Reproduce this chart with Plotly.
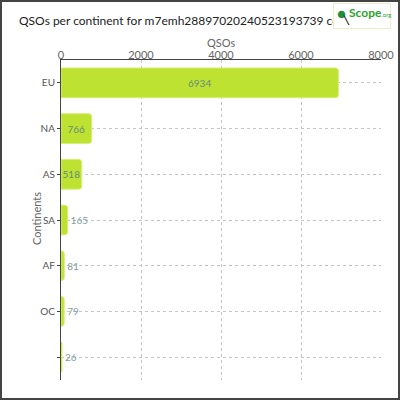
import plotly.graph_objects as go

continents = ["EU", "NA", "AS", "SA", "AF", "OC", " "]
qsos = [6934, 766, 518, 165, 81, 79, 26]
x_ticks = [0, 2000, 4000, 6000, 8000]

title = "QSOs per continent for m7emh28897020240523193739 contacts"

fig = go.Figure()

fig.add_trace(go.Bar(
    x=qsos,
    y=continents,
    orientation="h",
    text=qsos,
    textposition="auto",
    textangle=0,
    constraintext="none",
    insidetextanchor="middle",
    textfont=dict(size=10, color="#6a8a7a"),
    outsidetextfont=dict(size=10, color="#7f9ea0"),
    marker=dict(color="#bde232", line=dict(color="#d6ef72", width=1), cornerradius=3),
    cliponaxis=False,
))

fig.update_layout(
    width=400, height=400,
    margin=dict(l=61, r=19, t=60, b=20, autoexpand=False),
    paper_bgcolor="white", plot_bgcolor="white",
    font=dict(family="Lato", size=11, color="#555"),
    showlegend=False,
    bargap=0.35,
)

fig.update_xaxes(
    side="top", range=[0, 8000], tickvals=x_ticks, automargin=False,
    tickfont=dict(size=11, color="#666"), ticklabelstandoff=-4,
    showgrid=True, gridcolor="#c4c4c4", griddash="3px,3px",
    showline=True, linecolor="#444", zeroline=False,
    ticks="",
)
fig.update_yaxes(
    autorange="reversed", automargin=False,
    tickfont=dict(size=10, color="#555"),
    showgrid=True, gridcolor="#c4c4c4", griddash="3px,3px",
    showline=True, linecolor="#444",
    ticks="outside", ticklen=3, tickcolor="#444",
)


def px_x(p):
    return (p - 61) / 320


def px_y(p):
    return (380 - p) / 320


# title, then the logo box drawn over its end
fig.add_annotation(text=title, xref="paper", yref="paper", x=px_x(17), y=px_y(20),
                   xanchor="left", yanchor="middle", showarrow=False,
                   font=dict(size=12, color="#222"))
fig.add_annotation(text=" ", xref="paper", yref="paper", x=px_x(333), y=px_y(3),
                   xanchor="left", yanchor="top", width=56, height=24,
                   bgcolor="white", bordercolor="#eeeecc", borderwidth=1, borderpad=0,
                   showarrow=False)
fig.add_annotation(text="●", xref="paper", yref="paper", x=px_x(341), y=px_y(13),
                   xanchor="center", yanchor="middle", showarrow=False,
                   font=dict(size=15, color="#1f8f3a"))
fig.add_annotation(text="<b>╲</b>", xref="paper", yref="paper", x=px_x(346), y=px_y(20),
                   xanchor="center", yanchor="middle", showarrow=False,
                   font=dict(size=8, color="#111"))
fig.add_annotation(text="<b>Scope</b><span style='font-size:6px'>.org</span>",
                   xref="paper", yref="paper", x=px_x(347), y=px_y(13),
                   xanchor="left", yanchor="middle",
                   showarrow=False, font=dict(size=12, color="#2aa52a"))

# axis titles
fig.add_annotation(text="QSOs", xref="paper", yref="paper", x=0.5, y=px_y(42),
                   xanchor="center", yanchor="middle",
                   showarrow=False, font=dict(size=11, color="#666"))
fig.add_annotation(text="Continents", xref="paper", yref="paper", x=px_x(36), y=px_y(219),
                   xanchor="center", yanchor="middle",
                   textangle=-90, showarrow=False, font=dict(size=11, color="#666"))

# frame around the whole picture
fig.add_shape(type="rect", xref="paper", yref="paper",
              x0=px_x(1), x1=px_x(399), y0=px_y(399), y1=px_y(1),
              line=dict(color="#444", width=2), layer="above")

fig.write_html("out.html", config={"displayModeBar": False},
               post_script="document.body.style.margin='0';")
